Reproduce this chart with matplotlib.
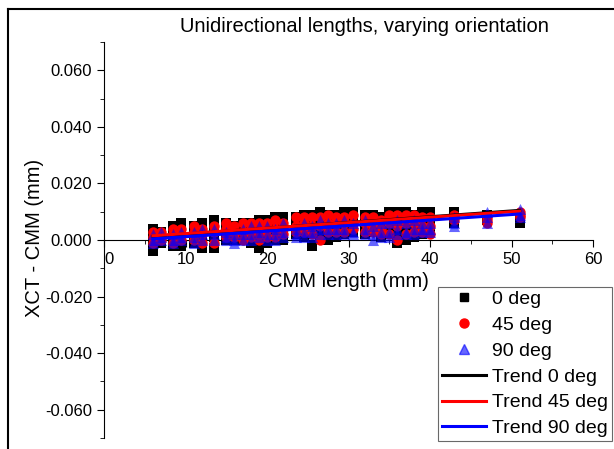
import matplotlib.pyplot as plt
import numpy as np
from matplotlib.lines import Line2D

plt.rcParams['font.family'] = ['Liberation Sans', 'DejaVu Sans']

# longitudes nominales CMM (mm)
lengths = [6, 7, 8.5, 9.5, 11, 12, 13.5, 15, 16, 17, 18, 19, 20, 21, 22, 23.5,
           24.5, 25.5, 26.5, 27.5, 28.5, 29.5, 30.5, 32, 33, 34, 35, 36, 37,
           38, 39, 40, 43, 47, 51]

# XCT - CMM (mm), varias repeticiones por longitud
dev_0 = [[0.004, 0.001, -0.002, -0.004], [0.003, 0.001, 0.000, -0.001],
         [0.005, 0.002, 0.000, -0.002], [0.006, 0.003, 0.000, -0.002],
         [0.005, 0.003, 0.001, -0.001], [0.006, 0.003, 0.000, -0.003],
         [0.007, 0.004, 0.001, -0.003], [0.006, 0.004, 0.002, 0.000],
         [0.005, 0.003, 0.001, 0.000], [0.006, 0.004, 0.002, 0.000],
         [0.006, 0.004, 0.001, -0.001], [0.007, 0.004, 0.001, -0.003],
         [0.007, 0.005, 0.002, -0.001], [0.008, 0.005, 0.002, 0.000],
         [0.008, 0.005, 0.003, 0.000], [0.008, 0.006, 0.004, 0.002],
         [0.009, 0.006, 0.004, 0.001], [0.009, 0.006, 0.002, -0.002],
         [0.010, 0.007, 0.004, 0.001], [0.009, 0.006, 0.003, 0.000],
         [0.009, 0.006, 0.004, 0.001], [0.010, 0.007, 0.005, 0.002],
         [0.010, 0.008, 0.005, 0.003], [0.009, 0.007, 0.005, 0.002],
         [0.009, 0.007, 0.005, 0.003], [0.008, 0.006, 0.003, 0.001],
         [0.010, 0.007, 0.004, 0.002], [0.010, 0.006, 0.003, -0.001],
         [0.010, 0.007, 0.003, 0.000], [0.009, 0.006, 0.003, 0.001],
         [0.010, 0.008, 0.005, 0.002], [0.010, 0.008, 0.006, 0.003],
         [0.010, 0.009, 0.007, 0.006], [0.009, 0.008, 0.007, 0.007],
         [0.008, 0.007, 0.006, 0.006]]

dev_45 = [[0.003, 0.001, -0.001], [0.003, 0.001, 0.000], [0.004, 0.002, -0.001],
          [0.004, 0.002, 0.000], [0.005, 0.003, 0.000], [0.004, 0.002, -0.001],
          [0.005, 0.003, -0.001], [0.006, 0.004, 0.001], [0.005, 0.003, 0.001],
          [0.006, 0.003, 0.000], [0.006, 0.004, 0.001], [0.006, 0.003, 0.000],
          [0.006, 0.004, 0.001], [0.007, 0.004, 0.001], [0.006, 0.004, 0.002],
          [0.008, 0.005, 0.003], [0.008, 0.006, 0.003], [0.008, 0.005, 0.002],
          [0.008, 0.005, 0.000], [0.009, 0.006, 0.003], [0.008, 0.006, 0.003],
          [0.008, 0.006, 0.003], [0.009, 0.006, 0.004], [0.008, 0.006, 0.003],
          [0.008, 0.005, 0.003], [0.007, 0.004, 0.002], [0.009, 0.006, 0.002],
          [0.009, 0.005, 0.000], [0.009, 0.006, 0.002], [0.009, 0.006, 0.003],
          [0.008, 0.005, 0.003], [0.008, 0.005, 0.002], [0.009, 0.008, 0.007],
          [0.008, 0.007, 0.006], [0.010, 0.009, 0.008]]

dev_90 = [[0.002, 0.000, -0.001], [0.003, 0.001, 0.000], [0.002, 0.000, -0.001],
          [0.003, 0.001, 0.000], [0.003, 0.001, -0.001], [0.004, 0.002, 0.000],
          [0.004, 0.002, 0.000], [0.003, 0.001, 0.000], [0.002, 0.000, -0.001],
          [0.004, 0.002, 0.000], [0.005, 0.002, 0.000], [0.005, 0.003, 0.001],
          [0.005, 0.002, 0.000], [0.004, 0.002, 0.000], [0.006, 0.003, 0.001],
          [0.004, 0.002, 0.001], [0.006, 0.003, 0.001], [0.005, 0.003, 0.001],
          [0.007, 0.004, 0.002], [0.006, 0.004, 0.002], [0.006, 0.004, 0.002],
          [0.007, 0.004, 0.002], [0.006, 0.003, 0.002], [0.007, 0.004, 0.002],
          [0.005, 0.002, 0.000], [0.006, 0.003, 0.001], [0.006, 0.003, 0.001],
          [0.007, 0.004, 0.002], [0.006, 0.003, 0.002], [0.007, 0.004, 0.002],
          [0.006, 0.004, 0.003], [0.006, 0.004, 0.003], [0.008, 0.006, 0.005],
          [0.010, 0.008, 0.006], [0.011, 0.009, 0.008]]

# lineas de tendencia (pendiente, ordenada)
trend_0 = (0.000204, 0.00007)
trend_45 = (0.000193, 0.00034)
trend_90 = (0.000196, -0.0008)

fig = plt.figure(figsize=(6.14, 4.49), dpi=100)
ax = fig.add_axes([104/614, 11/449, 489/614, 396/449])

def puntos(dev):
    xs, ys = [], []
    for L, vals in zip(lengths, dev):
        for v in vals:
            xs.append(L)
            ys.append(v)
    return xs, ys

x0, y0 = puntos(dev_0)
x45, y45 = puntos(dev_45)
x90, y90 = puntos(dev_90)
ax.scatter(x0, y0, marker='s', s=50, c='black', linewidths=0, zorder=2)
ax.scatter(x45, y45, marker='o', s=56, c='red', linewidths=0, zorder=3)
ax.scatter(x90, y90, marker='^', s=64, c='blue', alpha=0.6, linewidths=0, zorder=4)

xl = np.array([min(lengths), max(lengths)])
for (m, b), col in zip([trend_0, trend_45, trend_90], ['black', 'red', 'blue']):
    ax.plot(xl, m*xl + b, color=col, lw=2.2, zorder=5)

ax.set_xlim(0, 60)
ax.set_ylim(-0.07, 0.07)
ax.spines['top'].set_visible(False)
ax.spines['right'].set_visible(False)
ax.spines['bottom'].set_position(('data', 0))
ax.set_xticks(np.arange(0, 61, 10))
ax.set_xticks(np.arange(5, 60, 10), minor=True)
ax.set_xticklabels([str(v) for v in range(0, 61, 10)])
ax.get_xticklabels()[0].set_horizontalalignment('left')
ax.set_yticks(np.arange(-0.06, 0.061, 0.02))
ax.set_yticks(np.arange(-0.07, 0.071, 0.01), minor=True)
ax.set_yticklabels(['%.3f' % v for v in np.arange(-0.06, 0.061, 0.02)])
ax.tick_params(which='major', length=5, labelsize=12)
ax.tick_params(which='minor', length=3)
ax.patch.set_alpha(0)

fig.text(0.594, 0.942, 'Unidirectional lengths, varying orientation',
         ha='center', va='center', fontsize=14.5)
fig.text(0.567, 0.374, 'CMM length (mm)', ha='center', va='center', fontsize=14.5)
fig.text(0.057, 0.47, 'XCT - CMM (mm)', ha='center', va='center',
         rotation=90, fontsize=14.5)

# marco de la figura
fig.add_artist(Line2D([8/614, 1], [1-9/449]*2, color='black', lw=1.5))
fig.add_artist(Line2D([8/614]*2, [0, 1-9/449], color='black', lw=1.5))

handles = [
    Line2D([], [], ls='', marker='s', color='black', ms=5.5),
    Line2D([], [], ls='', marker='o', color='red', ms=6.5),
    Line2D([], [], ls='', marker='^', color='blue', alpha=0.6, ms=7),
    Line2D([], [], color='black', lw=2.2),
    Line2D([], [], color='red', lw=2.2),
    Line2D([], [], color='blue', lw=2.2),
]
labels = ['0 deg', '45 deg', '90 deg', 'Trend 0 deg', 'Trend 45 deg', 'Trend 90 deg']
leg = fig.legend(handles, labels, loc='lower right',
                 bbox_to_anchor=(612/614, 8/449), fontsize=14,
                 frameon=True, fancybox=False, handlelength=2.3,
                 handletextpad=0.3, labelspacing=0.42, borderpad=0.2,
                 borderaxespad=0)
leg.get_frame().set_edgecolor('#444444')
leg.get_frame().set_linewidth(0.8)

fig.savefig('out.png', dpi=100)
